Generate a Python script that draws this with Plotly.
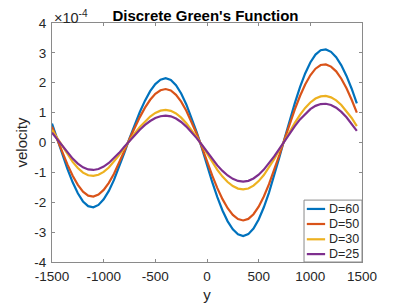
import plotly.graph_objects as go

# positions y (step 50)
y_pos = list(range(-1500, 1500, 50))

# velocity values in units of 1e-4
vel_D60 = [0.636, 0.124, -0.393, -0.890, -1.332, -1.701, -1.973, -2.131, -2.168, -2.090,
           -1.903, -1.619, -1.252, -0.818, -0.343, 0.138, 0.593, 1.021, 1.402, 1.718,
           1.954, 2.101, 2.150, 2.092, 1.918, 1.640, 1.273, 0.836, 0.350, -0.178,
           -0.761, -1.321, -1.831, -2.276, -2.639, -2.908, -3.074, -3.130, -3.067, -2.880,
           -2.576, -2.169, -1.675, -1.111, -0.504, 0.125, 0.736, 1.320, 1.853, 2.312,
           2.680, 2.942, 3.089, 3.117, 3.036, 2.855, 2.583, 2.228, 1.800, 1.310]
vel_D50 = [0.530, 0.103, -0.328, -0.742, -1.111, -1.419, -1.645, -1.777, -1.808, -1.743,
           -1.587, -1.350, -1.044, -0.682, -0.286, 0.115, 0.494, 0.850, 1.167, 1.430,
           1.627, 1.749, 1.790, 1.742, 1.597, 1.366, 1.060, 0.696, 0.292, -0.149,
           -0.634, -1.101, -1.527, -1.897, -2.200, -2.425, -2.563, -2.610, -2.558, -2.401,
           -2.148, -1.809, -1.396, -0.927, -0.420, 0.105, 0.618, 1.108, 1.556, 1.941,
           2.251, 2.471, 2.594, 2.615, 2.541, 2.382, 2.135, 1.813, 1.431, 0.998]
vel_D30 = [0.422, 0.151, -0.129, -0.402, -0.648, -0.855, -1.008, -1.098, -1.119, -1.079,
           -0.982, -0.836, -0.646, -0.422, -0.177, 0.070, 0.301, 0.518, 0.711, 0.871,
           0.991, 1.065, 1.090, 1.061, 0.972, 0.832, 0.645, 0.424, 0.178, -0.089,
           -0.382, -0.663, -0.918, -1.141, -1.324, -1.459, -1.542, -1.570, -1.539, -1.444,
           -1.292, -1.088, -0.840, -0.557, -0.253, 0.062, 0.368, 0.660, 0.927, 1.156,
           1.340, 1.471, 1.544, 1.557, 1.512, 1.410, 1.257, 1.058, 0.821, 0.551]
vel_D25 = [0.331, 0.109, -0.118, -0.339, -0.540, -0.706, -0.830, -0.902, -0.919, -0.886,
           -0.807, -0.686, -0.531, -0.347, -0.145, 0.058, 0.248, 0.428, 0.587, 0.719,
           0.818, 0.879, 0.900, 0.876, 0.803, 0.687, 0.533, 0.350, 0.147, -0.075,
           -0.318, -0.553, -0.766, -0.952, -1.104, -1.217, -1.286, -1.310, -1.284, -1.205,
           -1.078, -0.908, -0.701, -0.465, -0.211, 0.052, 0.307, 0.550, 0.772, 0.963,
           1.117, 1.226, 1.287, 1.297, 1.256, 1.164, 1.024, 0.844, 0.631, 0.390]

series_names = ["D=60", "D=50", "D=30", "D=25"]
series_vals = [vel_D60, vel_D50, vel_D30, vel_D25]
colors = ["#0072BD", "#D95319", "#EDB120", "#7E2F8E"]

x_ticks = [-1500, -1000, -500, 0, 500, 1000, 1500]
x_ticktext = ["-1500", "-1000", "-500", "0", "500", "1000", "1500"]
y_ticks = [-4, -3, -2, -1, 0, 1, 2, 3, 4]
y_ticktext = ["-4", "-3", "-2", "-1", "0", "1", "2", "3", "4"]

FONT = "Liberation Sans, Arial, Helvetica, sans-serif"
AX = "#8a8a8a"
TXT = "#262626"

fig = go.Figure()
for name, vals, c in zip(series_names, series_vals, colors):
    fig.add_trace(go.Scatter(x=y_pos, y=vals, mode="lines", name=name,
                             line=dict(color=c, width=2.2), showlegend=False))

# page body has an 8px margin, so the figure is sized to fit the 399x303 window
fig.update_layout(
    width=391, height=295,
    margin=dict(l=44, r=37, t=15, b=41, autoexpand=False),
    paper_bgcolor="white", plot_bgcolor="white",
    font=dict(family=FONT, size=13, color=TXT),
    title=dict(text="<b>Discrete Green's Function</b>", x=0.505, xanchor="center",
               xref="container", yref="container", y=1.0, yanchor="top",
               pad=dict(t=2, b=0, l=0, r=0),
               font=dict(size=15, color="#000000")),
    showlegend=False,
)
fig.update_xaxes(range=[-1500, 1500], tickvals=x_ticks, ticktext=x_ticktext,
                 ticks="inside", ticklen=3, tickcolor=AX, showline=True, linecolor=AX,
                 linewidth=1, mirror="ticks", showgrid=False, zeroline=False,
                 automargin=False,
                 tickfont=dict(size=13.5, color=TXT), ticklabelstandoff=2,
                 title=dict(text="y", font=dict(size=15, color=TXT), standoff=8))
fig.update_yaxes(range=[-4, 4], tickvals=y_ticks, ticktext=y_ticktext,
                 ticks="inside", ticklen=3, tickcolor=AX, showline=True, linecolor=AX,
                 linewidth=1, mirror="ticks", showgrid=False, zeroline=False,
                 automargin=False,
                 tickfont=dict(size=13.5, color=TXT), ticklabelstandoff=2,
                 title=dict(text="velocity", font=dict(size=15, color=TXT), standoff=3))

fig.add_annotation(x=0, y=1, xref="paper", yref="paper", xanchor="left", yanchor="bottom",
                   text="×10<sup>-4</sup>", showarrow=False, xshift=0, yshift=-5,
                   font=dict(size=14.5, color=TXT))

# legend box (MATLAB style), bottom-right inside axes
leg_x0, leg_x1, leg_y0, leg_y1 = 0.813, 1.0, 0.0, 0.259
fig.add_shape(type="rect", xref="paper", yref="paper", x0=leg_x0, x1=leg_x1,
              y0=leg_y0, y1=leg_y1, line=dict(color=AX, width=1), fillcolor="white",
              layer="above")
leg_rows = [0.222, 0.159, 0.095, 0.033]
for name, c, ry in zip(series_names, colors, leg_rows):
    fig.add_shape(type="line", xref="paper", yref="paper", x0=0.822, x1=0.881,
                  y0=ry, y1=ry, line=dict(color=c, width=2.2), layer="above")
    fig.add_annotation(x=0.888, y=ry, xref="paper", yref="paper", xanchor="left",
                       yanchor="middle", text=name, showarrow=False,
                       font=dict(size=12.5, color=TXT))

fig.write_html("out.html")
